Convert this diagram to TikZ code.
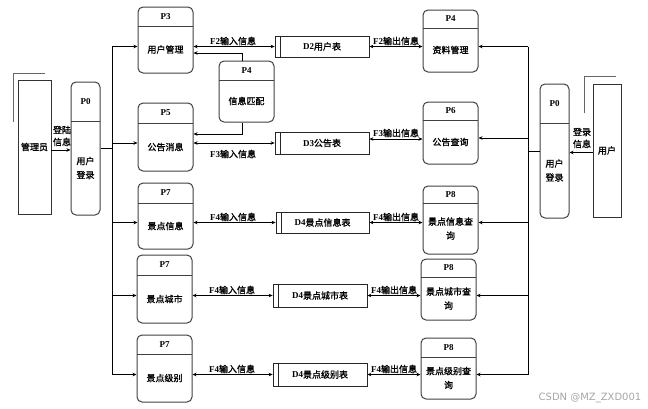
\documentclass[tikz,border=0pt]{standalone}
\usepackage{fontspec}
\setmainfont{Liberation Serif}
\newfontfamily\cjk[FakeBold=1.2]{Noto Sans CJK SC}
\newfontfamily\wmfont{DejaVu Sans}
\usetikzlibrary{fit,calc,arrows.meta}
\newcommand\zh[1]{{\cjk #1}}
\tikzset{
  proc/.style={draw=black!75, line width=1pt, rounded corners=5pt, inner sep=0pt},
  divline/.style={draw=black!75, line width=1pt},
  store/.style={draw=black!85, line width=0.8pt, inner sep=0pt},
  ent/.style={draw=black!80, line width=0.9pt, inner sep=0pt},
  shl/.style={draw=black!60, line width=0.9pt},
  conn/.style={draw=black, line width=0.8pt},
  arr/.style={conn, -{Stealth[length=4pt,width=3.5pt]}},
  darr/.style={conn, {Stealth[length=4pt,width=3.5pt]}-{Stealth[length=4pt,width=3.5pt]}},
  ttl/.style={font=\bfseries\fontsize{9}{10}\selectfont, inner sep=0pt},
  body/.style={font=\cjk\fontsize{9}{14}\selectfont, align=center, inner sep=0pt},
  flow/.style={font=\fontsize{9}{10}\selectfont, inner sep=0pt},
  flowtwo/.style={font=\cjk\fontsize{9}{12}\selectfont, align=center, inner sep=0pt},
}
\newcommand\procbox[8]{%
  \node[proc, fit={(#2,#4) (#3,#5)}] (#1) {};
  \draw[divline] (#2,#6) -- (#3,#6);
  \node[ttl] at ({(#2+#3)/2},{(#4+#6)/2}) {#7};
  \node[body] at ({(#2+#3)/2},{(#6+#5)/2}) {#8};
}
\begin{document}
\begin{tikzpicture}[x=1pt,y=-1pt]
\useasboundingbox (0,0) rectangle (648,408);
% external entities
\node[ent, fit={(18,80) (51,214)}] (adm) {};
\node[body] at (adm.center) {管理员};
\draw[shl] (13,122) -- (13,73) -- (45,73);
\node[ent, fit={(593,84) (621,217)}] (user) {};
\node[body] at (user.center) {用户};
\draw[shl] (584,113) -- (584,76) -- (616,76);
% processes
\procbox{p0l}{71}{100}{82}{215}{121}{P0}{用户\\登录}
\procbox{p3}{138}{193}{7}{73}{26}{P3}{用户管理}
\procbox{p5}{138}{193}{103}{171}{123}{P5}{公告消息}
\procbox{p7a}{138}{193}{183}{249}{203}{P7}{景点信息}
\procbox{p7b}{137}{192}{255}{323}{275}{P7}{景点城市}
\procbox{p7c}{137}{192}{335}{402}{354}{P7}{景点级别}
\procbox{pm}{219}{274}{61}{122}{80}{P4}{信息匹配}
\procbox{p4}{423}{478}{10}{72}{28}{P4}{资料管理}
\procbox{p6}{423}{478}{102}{164}{120}{P6}{公告查询}
\procbox{p8a}{423}{478}{186}{254}{203}{P8}{景点信息查\\询}
\procbox{p8b}{421}{476}{259}{320}{277}{P8}{景点城市查\\询}
\procbox{p8c}{421}{476}{338}{399}{357}{P8}{景点级别查\\询}
\procbox{p0r}{540}{569}{84}{218}{123}{P0}{用户\\登录}
% data stores
\node[store, fit={(275,36) (369,57)}] (d2) {};
\node[store, fit={(275,132) (369,154)}] (d3) {};
\node[store, fit={(276,212) (369,233)}] (d4a) {};
\node[store, fit={(273,284) (367,307)}] (d4b) {};
\node[store, fit={(273,363) (367,386)}] (d4c) {};
\foreach \s in {d2,d3,d4a,d4b,d4c}
  \draw[store] ([xshift=6pt]\s.north west) -- ([xshift=6pt]\s.south west);
\node[flow] at (d2.center) {\textbf{D2}\zh{用户表}};
\node[flow] at (d3.center) {\textbf{D3}\zh{公告表}};
\node[flow] at (d4a.center) {\textbf{D4}\zh{景点信息表}};
\node[flow] at (d4b.center) {\textbf{D4}\zh{景点城市表}};
\node[flow] at (d4c.center) {\textbf{D4}\zh{景点级别表}};
% buses
\coordinate (busL) at (112,0);
\coordinate (busR) at (528,0);
% left side
\coordinate (admo) at ($(adm.east)+(0,3)$);
\draw[arr] (admo) -- (admo -| p0l.west);
\node[flowtwo] at (62,136) {登陆\\信息};
\draw[conn] (p0l.east) -- (p0l.east -| busL);
\draw[conn] (busL |- d2.west) -- (busL |- d4c.west);
\draw[arr] (busL |- d2.west) -- (p3.west |- d2.west);
\draw[arr] (busL |- d3.west) -- (p5.west |- d3.west);
\draw[arr] (busL |- d4a.west) -- (p7a.west |- d4a.west);
\draw[arr] (busL |- d4b.west) -- (p7b.west |- d4b.west);
\draw[arr] (busL |- d4c.west) -- (p7c.west |- d4c.west);
% right side
\coordinate (uout) at ($(user.west)+(0,2)$);
\draw[arr] (uout) -- (uout -| p0r.east);
\node[flowtwo] at (582,138) {登录\\信息};
\draw[conn] (p0r.west) -- (p0r.west -| busR);
\draw[conn] (busR |- d2.east) -- (busR |- d4c.east);
\coordinate (p6in) at ($(p6.east)+(0,5)$);
\draw[arr] (busR |- d2.east) -- (p4.east |- d2.east);
\draw[arr] (busR |- p6in) -- (p6in);
\draw[arr] (busR |- d4a.east) -- (p8a.east |- d4a.east);
\draw[arr] (busR |- d4b.east) -- (p8b.east |- d4b.east);
\draw[arr] (busR |- d4c.east) -- (p8c.east |- d4c.east);
% P4 info matching
\coordinate (pmt) at ($(pm.north)+(-4,0)$);
\coordinate (pmb) at ($(pm.south)+(-4,0)$);
\draw[arr] (pmt) |- ($(p3.east)+(0,13)$);
\draw[arr] (pmb) |- ($(p5.east)+(0,-3)$);
% flows with stores
\draw[darr] (p3.east |- d2.west) -- (d2.west);
\draw[darr] (d2.east) -- (d2.east -| p4.west);
\node[flow] at (233,41) {\textbf{F2}\zh{输入信息}};
\node[flow] at (396,41) {\textbf{F2}\zh{输出信息}};
\draw[darr] (p5.east |- d3.west) -- (d3.west);
\coordinate (d3o) at ($(d3.east)+(0,-4)$);
\draw[darr] (d3o) -- (d3o -| p6.west);
\node[flow] at (233,154) {\textbf{F3}\zh{输入信息}};
\node[flow] at (396,133) {\textbf{F3}\zh{输出信息}};
\draw[darr] (p7a.east |- d4a.west) -- (d4a.west);
\draw[darr] (d4a.east) -- (d4a.east -| p8a.west);
\node[flow] at (233,217) {\textbf{F4}\zh{输入信息}};
\node[flow] at (396,217) {\textbf{F4}\zh{输出信息}};
\draw[darr] (p7b.east |- d4b.west) -- (d4b.west);
\draw[darr] (d4b.east) -- (d4b.east -| p8b.west);
\node[flow] at (232,290) {\textbf{F4}\zh{输入信息}};
\node[flow] at (394,290) {\textbf{F4}\zh{输出信息}};
\draw[darr] (p7c.east |- d4c.west) -- (d4c.west);
\draw[darr] (d4c.east) -- (d4c.east -| p8c.west);
\node[flow] at (232,369) {\textbf{F4}\zh{输入信息}};
\node[flow] at (394,369) {\textbf{F4}\zh{输出信息}};
% watermark
\node[font=\wmfont\fontsize{10}{11}\selectfont, text=black!35, inner sep=0pt] at (590,398) {CSDN @MZ\_ZXD001};
\end{tikzpicture}
\end{document}
